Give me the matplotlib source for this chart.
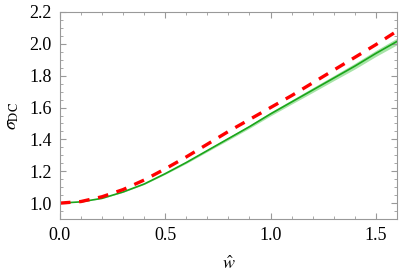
import matplotlib
matplotlib.use('Agg')
import matplotlib.pyplot as plt
import numpy as np
from matplotlib.ticker import MultipleLocator

plt.rcParams['font.family'] = ['Liberation Serif', 'DejaVu Serif']
plt.rcParams['mathtext.fontset'] = 'stix'

# values
w = [0.0, 0.1, 0.2, 0.3, 0.4, 0.5, 0.6, 0.7, 0.8, 0.9, 1.0, 1.1, 1.2, 1.3, 1.4, 1.5, 1.6]
sigma_green = [1.0, 1.008, 1.03, 1.07, 1.12, 1.185, 1.255, 1.33, 1.405, 1.48, 1.56,
               1.635, 1.71, 1.785, 1.86, 1.94, 2.015]
band_half = [0.0, 0.0, 0.001, 0.002, 0.003, 0.004, 0.006, 0.007, 0.009, 0.010, 0.012,
             0.013, 0.015, 0.016, 0.018, 0.019, 0.021]
sigma_red = [1.0, 1.01, 1.04, 1.085, 1.145, 1.215, 1.29, 1.37, 1.45, 1.525, 1.6,
             1.675, 1.755, 1.835, 1.915, 1.995, 2.08]
xticks = [0.0, 0.5, 1.0, 1.5]
yticks = [1.0, 1.2, 1.4, 1.6, 1.8, 2.0, 2.2]

fig = plt.figure(figsize=(3.99, 2.78), dpi=100)
ax = fig.add_axes([0.150, 0.212, 0.845, 0.745])

g = np.array(sigma_green)
b = np.array(band_half)
ax.fill_between(w, g - b, g + b, color='#a8e4a8', lw=0)
ax.plot(w, sigma_green, color='#1aa51a', lw=1.2)
ax.plot(w, sigma_red, color='#ff0000', lw=2.4, dashes=(3.2, 2.6))

ax.set_xlim(0, 1.6)
ax.set_ylim(0.9, 2.2)
ax.set_xticks(xticks)
ax.set_xticklabels([f'{v:.1f}' for v in xticks])
ax.set_yticks(yticks)
ax.set_yticklabels([f'{v:.1f}' for v in yticks])
ax.xaxis.set_minor_locator(MultipleLocator(0.1))
ax.yaxis.set_minor_locator(MultipleLocator(0.05))

ax.tick_params(which='both', direction='in', top=True, right=True, color='#999999',
               labelsize=13, pad=6)
ax.tick_params(which='major', length=4, width=0.8)
ax.tick_params(which='minor', length=2, width=0.6)
for s in ax.spines.values():
    s.set_color('#999999')
    s.set_linewidth(0.8)

ax.set_xlabel(r'$\hat{w}$', fontsize=13, labelpad=8)
ax.set_ylabel(r'$\sigma_{\rm DC}$', fontsize=13, labelpad=6)

fig.savefig('out.png', dpi=100)
